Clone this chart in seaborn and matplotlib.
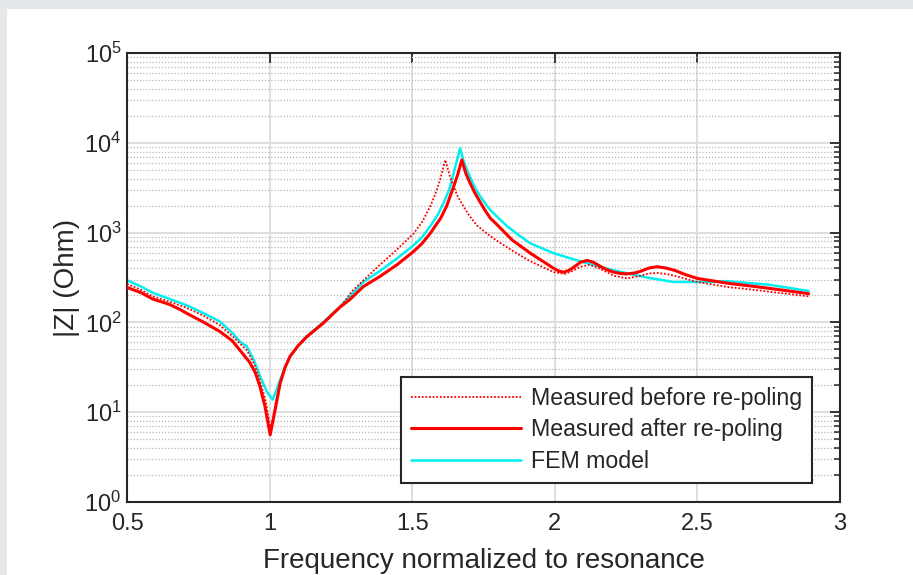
import numpy as np
import pandas as pd
import matplotlib
matplotlib.use("Agg")
import matplotlib.pyplot as plt
import matplotlib.ticker as mticker
from matplotlib.patches import Rectangle
import seaborn as sns

# Impedance magnitude |Z| (Ohm) versus frequency normalized to resonance
freq_after = [0.50, 0.55, 0.59, 0.62, 0.65, 0.69, 0.71, 0.77, 0.826, 0.87, 0.896, 0.93,
              0.95, 0.967, 0.984, 1.002, 1.019, 1.037, 1.055, 1.072, 1.10, 1.13, 1.188,
              1.247, 1.28, 1.329, 1.39, 1.446, 1.505, 1.535, 1.563, 1.58, 1.60, 1.62,
              1.645, 1.66, 1.674, 1.688, 1.703, 1.72, 1.738, 1.755, 1.774, 1.797, 1.85,
              1.914, 1.996, 2.015, 2.031, 2.05, 2.07, 2.09, 2.113, 2.135, 2.16, 2.18,
              2.206, 2.23, 2.253, 2.28, 2.30, 2.33, 2.359, 2.39, 2.42, 2.46,
              2.499, 2.616, 2.65, 2.75, 2.89]
z_after = [245, 214, 182, 170, 158, 137, 126, 100, 79, 62, 49, 36,
           27.5, 19, 11.5, 5.6, 10.5, 21, 32, 42, 55, 69, 98,
           148, 178, 251, 330, 437, 617, 760, 977, 1175, 1450, 1950,
           3240, 4470, 6450, 4570, 3550, 2750, 2190, 1780, 1445, 1230, 830,
           590, 400, 372, 363, 380, 420, 468, 490, 468, 420, 389,
           363, 351, 347, 355, 370, 403, 417, 403, 380, 339,
           309, 270, 263, 240, 209]

freq_before = [0.50, 0.55, 0.59, 0.65, 0.71, 0.77, 0.826, 0.87, 0.92, 0.945, 0.96, 0.985,
               1.004, 1.02, 1.037, 1.055, 1.072, 1.10, 1.13, 1.188, 1.247, 1.29, 1.329,
               1.39, 1.446, 1.505, 1.535, 1.563, 1.58, 1.598, 1.607, 1.616, 1.633, 1.657,
               1.68, 1.70, 1.727, 1.75, 1.774, 1.797, 1.85, 1.914, 1.996, 2.035, 2.06,
               2.09, 2.12, 2.15, 2.17, 2.206, 2.253, 2.30, 2.33, 2.359, 2.39, 2.42,
               2.499, 2.616, 2.65, 2.75, 2.89]
z_before = [268, 230, 195, 170, 145, 118, 93, 70, 49, 35, 26, 14,
            6.3, 12, 22, 32, 42, 55, 70, 100, 148, 224, 295,
            447, 646, 977, 1320, 1950, 2630, 3890, 5000, 6450, 4170, 2630,
            1950, 1550, 1200, 1050, 912, 813, 631, 479, 363, 347, 372,
            417, 437, 407, 380, 331, 309, 330, 351, 355, 347, 330,
            282, 245, 240, 220, 195]

freq_fem = [0.50, 0.55, 0.59, 0.65, 0.71, 0.77, 0.826, 0.87, 0.896, 0.92, 0.945, 0.967,
            0.99, 1.011, 1.025, 1.037, 1.055, 1.072, 1.10, 1.13, 1.188, 1.247, 1.329,
            1.39, 1.446, 1.505, 1.535, 1.563, 1.59, 1.61, 1.63, 1.645, 1.655, 1.668,
            1.68, 1.692, 1.71, 1.727, 1.75, 1.774, 1.797, 1.83, 1.87, 1.914, 1.996,
            2.089, 2.206, 2.323, 2.416, 2.556, 2.60, 2.75, 2.89]
z_fem = [295, 250, 214, 182, 155, 126, 102, 76, 61, 54, 38, 25,
         17, 13.8, 18, 23, 32, 42, 55, 70, 100, 150, 282,
         380, 513, 724, 890, 1175, 1585, 2140, 3020, 4570, 6030, 8700,
         6300, 5010, 3720, 2880, 2240, 1780, 1510, 1200, 955, 760, 589,
         479, 380, 316, 282, 282, 288, 263, 224]

labels = ["Measured before re-poling", "Measured after re-poling", "FEM model"]
x_ticks = [0.5, 1, 1.5, 2, 2.5, 3]
x_tick_labels = ["0.5", "1", "1.5", "2", "2.5", "3"]
y_decades = [0, 1, 2, 3, 4, 5]

df = pd.concat([
    pd.DataFrame({"f": freq_before, "z": z_before, "series": labels[0]}),
    pd.DataFrame({"f": freq_after, "z": z_after, "series": labels[1]}),
    pd.DataFrame({"f": freq_fem, "z": z_fem, "series": labels[2]}),
], ignore_index=True)

sns.set_style("white")
plt.rcParams["font.family"] = ["Liberation Sans", "DejaVu Sans"]
plt.rcParams["mathtext.fontset"] = "custom"
plt.rcParams["mathtext.rm"] = "Liberation Sans"
plt.rcParams["mathtext.default"] = "regular"

fig = plt.figure(figsize=(9.13, 5.75), dpi=100)
fig.patch.set_facecolor("#e4e8ea")
fig.patches.append(Rectangle((7 / 913, 0), 1, 1 - 9 / 575, transform=fig.transFigure,
                             facecolor="white", edgecolor="none", zorder=-10))

ax = fig.add_axes([127 / 913, (575 - 502) / 575, 713 / 913, 449 / 575])
ax.set_facecolor("white")

styles = {
    labels[0]: dict(color="#ff0000", lw=1.3, ls=(0, (1, 1))),
    labels[1]: dict(color="#ff0000", lw=2.2, ls="-"),
    labels[2]: dict(color="#00f0f0", lw=1.8, ls="-"),
}
order = [labels[2], labels[0], labels[1]]
for name in order:
    sub = df[df["series"] == name]
    st = styles[name]
    sns.lineplot(data=sub, x="f", y="z", ax=ax, estimator=None, sort=False,
                 color=st["color"], linewidth=st["lw"], linestyle=st["ls"], label=name,
                 zorder=3 if name != labels[2] else 2.5)

ax.set_yscale("log")
ax.set_xlim(0.5, 3)
ax.set_ylim(1, 1e5)
ax.set_xticks(x_ticks)
ax.set_xticklabels(x_tick_labels)
ax.set_yticks([10.0 ** d for d in y_decades])
ax.set_yticklabels([r"$10^{%d}$" % d for d in y_decades])
ax.yaxis.set_minor_locator(mticker.LogLocator(base=10, subs=np.arange(2, 10), numticks=20))
ax.yaxis.set_minor_formatter(mticker.NullFormatter())

ax.grid(True, which="major", axis="both", color="#dedede", lw=1.4, ls="-", zorder=0)
ax.grid(True, which="minor", axis="y", color="#b8b8b8", lw=0.9, ls=(0, (1, 1.5)), zorder=0)

ax.tick_params(which="both", direction="in", top=True, right=True, colors="#262626",
               labelcolor="#262626")
ax.tick_params(which="major", length=7, width=1.3, labelsize=17)
ax.tick_params(axis="x", which="major", pad=8)
ax.tick_params(axis="y", which="major", pad=4)
ax.tick_params(which="minor", length=4, width=1.1)
for s in ax.spines.values():
    s.set_color("#262626")
    s.set_linewidth(1.5)

ax.set_xlabel("Frequency normalized to resonance", fontsize=20, color="#262626", labelpad=9)
ax.set_ylabel("|Z| (Ohm)", fontsize=20, color="#262626", labelpad=3)

handles, labs = ax.get_legend_handles_labels()
hmap = dict(zip(labs, handles))
leg = ax.legend([hmap[l] for l in labels], labels, loc="lower right",
                bbox_to_anchor=(0.961, 0.042), fontsize=16.7, frameon=True, fancybox=False,
                framealpha=1, edgecolor="#262626", handlelength=4.75, handletextpad=0.4,
                labelspacing=0.36, borderpad=0.45, borderaxespad=0)
leg.get_frame().set_linewidth(1.5)

fig.savefig("out.png", dpi=100, facecolor=fig.get_facecolor())
